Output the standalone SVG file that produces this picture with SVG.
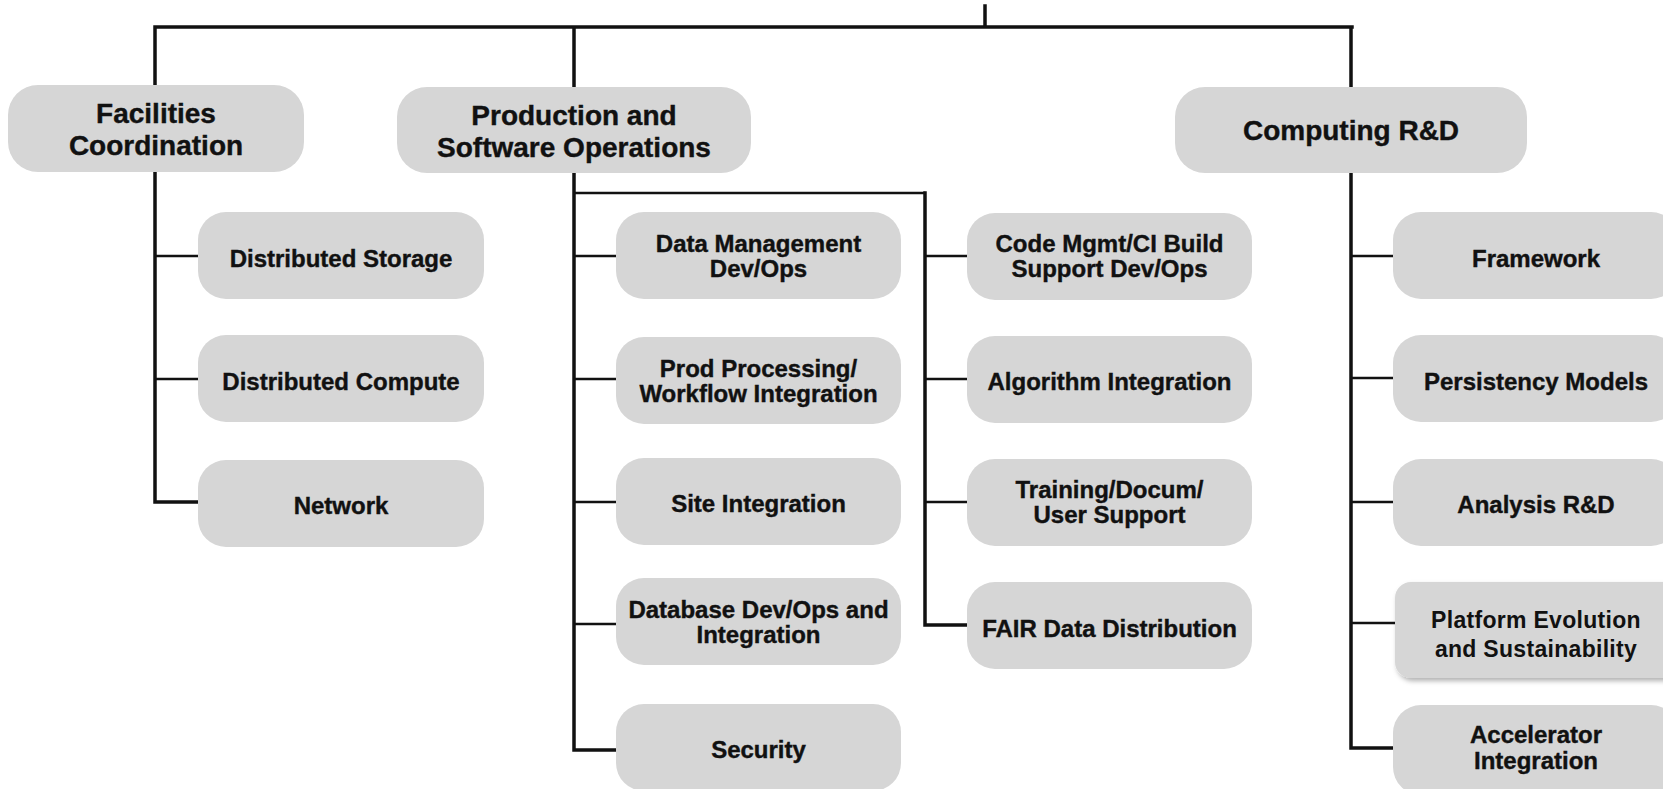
<svg xmlns="http://www.w3.org/2000/svg" width="1663" height="789" viewBox="0 0 1663 789">
<defs>
<style>
.box{fill:#d6d6d6;}
.t{font-family:"Liberation Sans",Arial,Helvetica,sans-serif;font-weight:bold;fill:#111;stroke:#111;stroke-width:0.4;text-anchor:middle;}
.p{font-size:28px;}
.c{font-size:24px;}
.trunk{stroke:#111;stroke-width:3.5;fill:none;stroke-linecap:square;}
.br{stroke:#111;stroke-width:2.5;fill:none;}
</style>
<filter id="sh" x="-10%" y="-10%" width="130%" height="140%">
<feDropShadow dx="2" dy="3" stdDeviation="2.5" flood-color="#000" flood-opacity="0.3"/>
</filter>
</defs>
<rect width="1663" height="789" fill="#fff"/>
<g id="connectors">
<path class="trunk" d="M985 6V27M155 27H1352M155 27V502H198M574 27V750H616M1351 27V748H1393M925 193V625H967"/>
<path class="br" d="M574 193H925"/>
<path class="br" d="M155 256H198M155 379H198"/>
<path class="br" d="M574 256H616M574 379H616M574 502H616M574 624H616"/>
<path class="br" d="M925 256H967M925 379H967M925 502H967"/>
<path class="br" d="M1351 256H1393M1351 378H1393M1351 502H1393M1351 623H1395"/>
</g>
<g id="facilities"><rect class="box" x="8" y="85" width="296" height="87" rx="30"/><text class="t p" x="156" y="123">Facilities</text><text class="t p" x="156" y="155">Coordination</text></g>
<g id="production"><rect class="box" x="397" y="87" width="354" height="86" rx="30"/><text class="t p" x="574" y="125">Production and</text><text class="t p" x="574" y="157">Software Operations</text></g>
<g id="computing"><rect class="box" x="1175" y="87" width="352" height="86" rx="30"/><text class="t p" x="1351" y="140">Computing R&amp;D</text></g>

<g id="dist-storage"><rect class="box" x="198" y="212" width="286" height="87" rx="28"/><text class="t c" x="341" y="267">Distributed Storage</text></g>
<g id="dist-compute"><rect class="box" x="198" y="335" width="286" height="87" rx="28"/><text class="t c" x="341" y="390">Distributed Compute</text></g>
<g id="network"><rect class="box" x="198" y="460" width="286" height="87" rx="28"/><text class="t c" x="341" y="514">Network</text></g>

<g id="data-mgmt"><rect class="box" x="616" y="212" width="285" height="87" rx="28"/><text class="t c" x="758.5" y="252">Data Management</text><text class="t c" x="758.5" y="277">Dev/Ops</text></g>
<g id="prod-proc"><rect class="box" x="616" y="337" width="285" height="87" rx="28"/><text class="t c" x="758.5" y="377">Prod Processing/</text><text class="t c" x="758.5" y="402">Workflow Integration</text></g>
<g id="site-int"><rect class="box" x="616" y="458" width="285" height="87" rx="28"/><text class="t c" x="758.5" y="512">Site Integration</text></g>
<g id="database"><rect class="box" x="616" y="578" width="285" height="87" rx="28"/><text class="t c" x="758.5" y="618">Database Dev/Ops and</text><text class="t c" x="758.5" y="643">Integration</text></g>
<g id="security"><rect class="box" x="616" y="704" width="285" height="87" rx="28"/><text class="t c" x="758.5" y="758">Security</text></g>

<g id="code-mgmt"><rect class="box" x="967" y="213" width="285" height="87" rx="28"/><text class="t c" x="1109.5" y="252">Code Mgmt/CI Build</text><text class="t c" x="1109.5" y="277">Support Dev/Ops</text></g>
<g id="algorithm"><rect class="box" x="967" y="336" width="285" height="87" rx="28"/><text class="t c" x="1109.5" y="390">Algorithm Integration</text></g>
<g id="training"><rect class="box" x="967" y="459" width="285" height="87" rx="28"/><text class="t c" x="1109.5" y="498">Training/Docum/</text><text class="t c" x="1109.5" y="523">User Support</text></g>
<g id="fair"><rect class="box" x="967" y="582" width="285" height="87" rx="28"/><text class="t c" x="1109.5" y="637">FAIR Data Distribution</text></g>

<g id="framework"><rect class="box" x="1393" y="212" width="286" height="87" rx="28"/><text class="t c" x="1536" y="267">Framework</text></g>
<g id="persistency"><rect class="box" x="1393" y="335" width="286" height="87" rx="28"/><text class="t c" x="1536" y="390">Persistency Models</text></g>
<g id="analysis"><rect class="box" x="1393" y="459" width="286" height="87" rx="28"/><text class="t c" x="1536" y="513">Analysis R&amp;D</text></g>
<g id="platform"><rect class="box" x="1395" y="582" width="290" height="96" rx="16" filter="url(#sh)"/><text class="t" x="1536" y="628" style="font-size:23px;letter-spacing:0.3px;stroke-width:0">Platform Evolution</text><text class="t" x="1536" y="657" style="font-size:23px;letter-spacing:0.3px;stroke-width:0">and Sustainability</text></g>
<g id="accelerator"><rect class="box" x="1393" y="705" width="286" height="90" rx="28"/><text class="t c" x="1536" y="743">Accelerator</text><text class="t c" x="1536" y="769">Integration</text></g>
</svg>
